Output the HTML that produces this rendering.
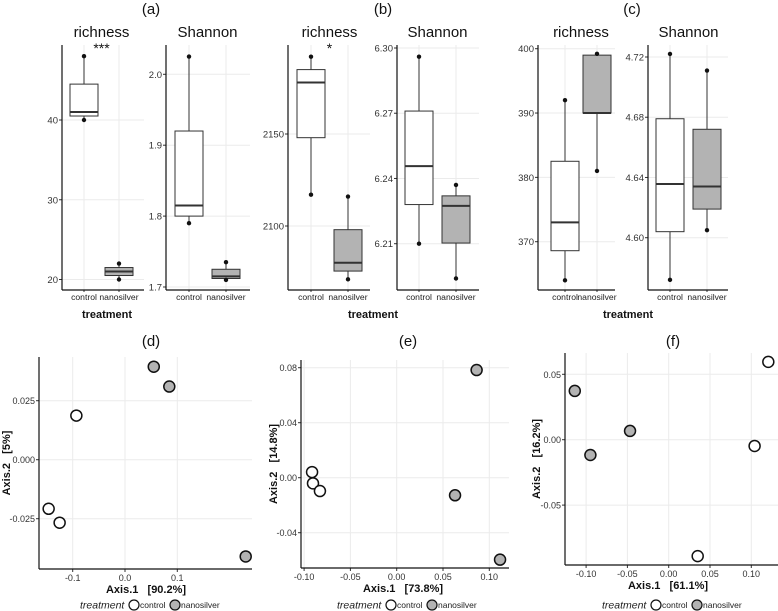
<!DOCTYPE html>
<html><head><meta charset="utf-8">
<style>
html,body{margin:0;padding:0;background:#fff;}
svg{display:block;font-family:"Liberation Sans",sans-serif;}
text{white-space:pre;}
</style></head>
<body>
<svg id="fig" width="778" height="611" viewBox="0 0 778 611" xmlns="http://www.w3.org/2000/svg"></svg>
<script>
const categories = ["control", "nanosilver"];
// box stats: [min, q1, median, q3, max]
const aRichCtrl = [40, 40.5, 41, 44.5, 48];
const aRichNano = [20, 20.5, 21, 21.5, 22];
const aShanCtrl = [1.79, 1.80, 1.815, 1.92, 2.025];
const aShanNano = [1.71, 1.712, 1.715, 1.725, 1.735];
const bRichCtrl = [2117, 2148, 2178, 2185, 2192];
const bRichNano = [2071, 2075.5, 2080, 2098, 2116];
const bShanCtrl = [6.21, 6.228, 6.2457, 6.271, 6.296];
const bShanNano = [6.194, 6.2103, 6.2274, 6.232, 6.237];
const cRichCtrl = [364, 368.6, 373, 382.5, 392];
const cRichNano = [381, 390, 390, 399, 399.2];
const cShanCtrl = [4.572, 4.604, 4.6357, 4.679, 4.722];
const cShanNano = [4.605, 4.619, 4.634, 4.672, 4.711];
const aRichTicks = [20, 30, 40];
const aShanTicks = ["1.7", "1.8", "1.9", "2.0"];
const bRichTicks = [2100, 2150];
const bShanTicks = ["6.21", "6.24", "6.27", "6.30"];
const cRichTicks = [370, 380, 390, 400];
const cShanTicks = ["4.60", "4.64", "4.68", "4.72"];
// PCoA points
const dCtrlX = [-0.093, -0.146, -0.125];
const dCtrlY = [0.0187, -0.0208, -0.0267];
const dNanoX = [0.055, 0.0847, 0.2308];
const dNanoY = [0.0394, 0.031, -0.041];
const eCtrlX = [-0.0914, -0.0904, -0.0829];
const eCtrlY = [0.0041, -0.0041, -0.0097];
const eNanoX = [0.0863, 0.063, 0.1116];
const eNanoY = [0.0783, -0.0128, -0.0596];
const fCtrlX = [0.1206, 0.104, 0.0351];
const fCtrlY = [0.0595, -0.0048, -0.089];
const fNanoX = [-0.1137, -0.0948, -0.0468];
const fNanoY = [0.0373, -0.0117, 0.0067];
const dXTicks = ["-0.1", "0.0", "0.1"];
const dYTicks = ["-0.025", "0.000", "0.025"];
const eXTicks = ["-0.10", "-0.05", "0.00", "0.05", "0.10"];
const eYTicks = ["-0.04", "0.00", "0.04", "0.08"];
const fXTicks = ["-0.10", "-0.05", "0.00", "0.05", "0.10"];
const fYTicks = ["-0.05", "0.00", "0.05"];

const svg = document.getElementById('fig');
const NS = "http://www.w3.org/2000/svg";
function mk(tag, attrs, parent) {
  const e = document.createElementNS(NS, tag);
  for (const k in attrs) e.setAttribute(k, attrs[k]);
  (parent || svg).appendChild(e);
  return e;
}
function txt(x, y, s, size, extra, parent) {
  const t = mk('text', Object.assign({x: x, y: y, 'font-size': size, fill: '#222', 'text-anchor': 'middle'}, extra || {}), parent);
  t.textContent = s;
  return t;
}
function linScale(v0, p0, v1, p1) { return v => p0 + (v - v0) * (p1 - p0) / (v1 - v0); }

function boxPanel(name, ax, right, top, bottom, yScale, ticks, ctrl, nano, xC, xN, title, star) {
  const g = mk('g', {});
  
  
  ticks.forEach(t => {
    const y = yScale(+t);
    const gl = mk('line', {x1: ax, x2: right, y1: y, y2: y, stroke: '#ebebeb', 'stroke-width': 1}, g);
    
    
    mk('line', {x1: ax - 3, x2: ax, y1: y, y2: y, stroke: '#333', 'stroke-width': 1}, g);
    const tl = txt(ax - 4, y + 3.5, String(t), 9.5, {'text-anchor': 'end', fill: '#333'}, g);
    
    
  });
  [xC, xN].forEach(x => {
    mk('line', {x1: x, x2: x, y1: top, y2: bottom, stroke: '#ebebeb', 'stroke-width': 1}, g);
  });
  [[ctrl, xC, '#fff', categories[0]], [nano, xN, '#b3b3b3', categories[1]]].forEach(([s, x, fill, cat]) => {
    const bg = mk('g', {}, g);
    
    
    const w = 28;
    mk('line', {x1: x, x2: x, y1: yScale(s[0]), y2: yScale(s[4]), stroke: '#333', 'stroke-width': 1}, bg);
    mk('rect', {x: x - w / 2, y: yScale(s[3]), width: w, height: Math.max(0.5, yScale(s[1]) - yScale(s[3])), fill: fill, stroke: '#333', 'stroke-width': 1}, bg);
    mk('line', {x1: x - w / 2, x2: x + w / 2, y1: yScale(s[2]), y2: yScale(s[2]), stroke: '#333', 'stroke-width': 2}, bg);
    mk('circle', {cx: x, cy: yScale(s[0]), r: 2.2, fill: '#111'}, bg);
    mk('circle', {cx: x, cy: yScale(s[4]), r: 2.2, fill: '#111'}, bg);
    const xl = txt(x, bottom + 10, cat, 8.6, {fill: '#222'}, g);
    
    
    mk('line', {x1: x, x2: x, y1: bottom, y2: bottom + 2, stroke: '#333'}, g);
  });
  mk('line', {x1: ax, x2: ax, y1: top, y2: bottom, stroke: '#111', 'stroke-width': 1.2}, g);
  mk('line', {x1: ax, x2: right, y1: bottom, y2: bottom, stroke: '#111', 'stroke-width': 1.2}, g);
  const tt = txt((xC + xN) / 2, 37, title, 15, {fill: '#111'}, g);
  
  
  if (star) {
    const st = txt((xC + xN) / 2, 53, star, 14, {fill: '#111'}, g);
    
    
  }
}

const TOP = 45, BOT = 290;
boxPanel('panel-a-richness', 62, 144, TOP, BOT, linScale(20, 279.5, 40, 120), aRichTicks, aRichCtrl, aRichNano, 84, 119, 'richness', '***');
boxPanel('panel-a-shannon', 166, 250, TOP, BOT, linScale(1.7, 287, 2.0, 74.3), aShanTicks, aShanCtrl, aShanNano, 189, 226, 'Shannon');
boxPanel('panel-b-richness', 288, 370, TOP, BOT, linScale(2100, 226, 2150, 134), bRichTicks, bRichCtrl, bRichNano, 311, 348, 'richness', '*');
boxPanel('panel-b-shannon', 397, 479, TOP, BOT, linScale(6.21, 243.7, 6.30, 48), bShanTicks, bShanCtrl, bShanNano, 419, 456, 'Shannon');
boxPanel('panel-c-richness', 538, 615, TOP, BOT, linScale(370, 241.7, 400, 48.7), cRichTicks, cRichCtrl, cRichNano, 565, 597, 'richness');
boxPanel('panel-c-shannon', 648, 728, TOP, BOT, linScale(4.60, 237.7, 4.72, 57), cShanTicks, cShanCtrl, cShanNano, 670, 707, 'Shannon');

[[151, '(a)'], [383, '(b)'], [632, '(c)']].forEach(([x, s]) => {
  const t = txt(x, 14, s, 15, {fill: '#111'});
  
  
});
[[107, 'treatment'], [373, 'treatment'], [628, 'treatment']].forEach(([x, s]) => {
  const t = txt(x, 318, s, 11, {'font-weight': 'bold', fill: '#111'});
  
  
});

function scatterPanel(name, left, right, top, bottom, xs, ys, xT, yT, cx, cy, nx, ny, xTitle, yTitle, yTitleX, label, titleCx) {
  const g = mk('g', {});
  
  
  yT.forEach(t => {
    const y = ys(+t);
    mk('line', {x1: left, x2: right, y1: y, y2: y, stroke: '#ebebeb'}, g);
    mk('line', {x1: left - 3, x2: left, y1: y, y2: y, stroke: '#333'}, g);
    const tl = txt(left - 4, y + 3.5, t, 9, {'text-anchor': 'end', fill: '#333'}, g);
    
    
  });
  xT.forEach(t => {
    const x = xs(+t);
    mk('line', {x1: x, x2: x, y1: top, y2: bottom, stroke: '#ebebeb'}, g);
    mk('line', {x1: x, x2: x, y1: bottom, y2: bottom + 3, stroke: '#333'}, g);
    const tl = txt(x, bottom + 12, t, 9, {fill: '#333'}, g);
    
    
  });
  mk('line', {x1: left, x2: left, y1: top, y2: bottom, stroke: '#111', 'stroke-width': 1.2}, g);
  mk('line', {x1: left, x2: right, y1: bottom, y2: bottom, stroke: '#111', 'stroke-width': 1.2}, g);
  cx.forEach((v, i) => {
    const p = mk('circle', {cx: xs(v), cy: ys(cy[i]), r: 5.5, fill: '#fff', stroke: '#111', 'stroke-width': 1.5}, g);
    
    
  });
  nx.forEach((v, i) => {
    const p = mk('circle', {cx: xs(v), cy: ys(ny[i]), r: 5.5, fill: '#b3b3b3', stroke: '#111', 'stroke-width': 1.5}, g);
    
    
  });
  const xt = txt(titleCx, bottom + 24, xTitle, 11, {'font-weight': 'bold', fill: '#111'}, g);
  
  
  const yc = (top + bottom) / 2;
  const yt = txt(yTitleX, yc, yTitle, 11, {'font-weight': 'bold', fill: '#111', transform: 'rotate(-90 ' + yTitleX + ' ' + yc + ')'}, g);
  
  
  const pl = txt(titleCx + 5, 346, label, 15, {fill: '#111'}, g);
  
  
  const lg = mk('g', {}, g);
  
  
  const lx = titleCx - 66, ly = 605;
  txt(lx, ly + 3.5, 'treatment', 10.5, {'font-style': 'italic', 'text-anchor': 'start', fill: '#222'}, lg);
  mk('circle', {cx: lx + 54, cy: ly, r: 5, fill: '#fff', stroke: '#111', 'stroke-width': 1.2}, lg);
  txt(lx + 60, ly + 3, 'control', 8.5, {'text-anchor': 'start', fill: '#222'}, lg);
  mk('circle', {cx: lx + 95, cy: ly, r: 5, fill: '#b3b3b3', stroke: '#111', 'stroke-width': 1.2}, lg);
  txt(lx + 101, ly + 3, 'nanosilver', 8.5, {'text-anchor': 'start', fill: '#222'}, lg);
}

scatterPanel('panel-d-pcoa', 39, 252, 357, 569, linScale(0, 125, 0.1, 177.3), linScale(0, 459.7, 0.025, 400.7),
  dXTicks, dYTicks, dCtrlX, dCtrlY, dNanoX, dNanoY, 'Axis.1   [90.2%]', 'Axis.2   [5%]', 10, '(d)', 146);
scatterPanel('panel-e-pcoa', 301, 509, 360, 568, linScale(0, 396.7, 0.05, 443), linScale(0, 477.7, 0.04, 422.7),
  eXTicks, eYTicks, eCtrlX, eCtrlY, eNanoX, eNanoY, 'Axis.1   [73.8%]', 'Axis.2   [14.8%]', 277, '(e)', 403);
scatterPanel('panel-f-pcoa', 565, 778, 353, 565, linScale(0, 668.7, 0.05, 710), linScale(0, 439.7, 0.05, 374.3),
  fXTicks, fYTicks, fCtrlX, fCtrlY, fNanoX, fNanoY, 'Axis.1   [61.1%]', 'Axis.2   [16.2%]', 540, '(f)', 668);
</script>
</body></html>
